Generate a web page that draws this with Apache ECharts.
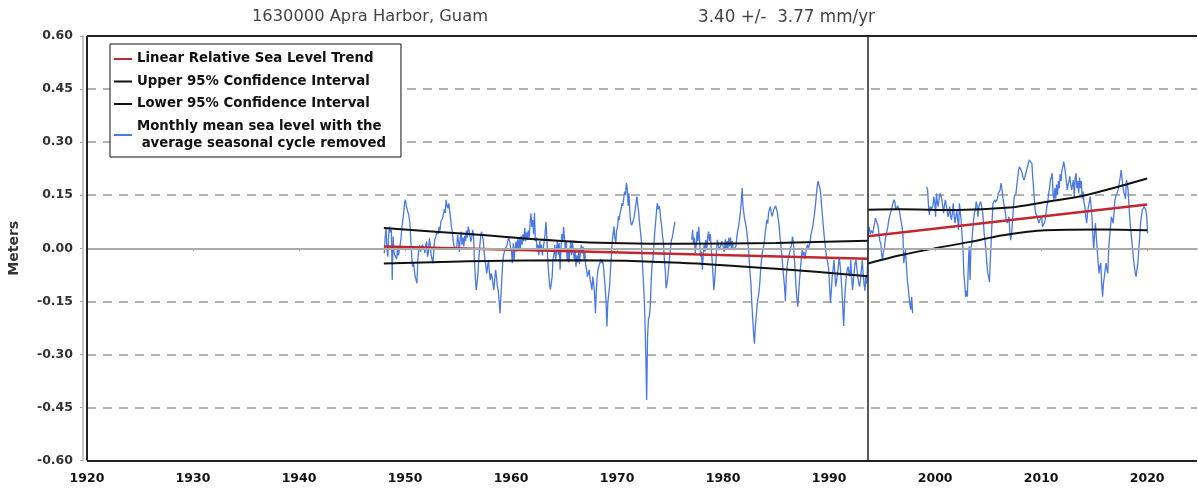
<!DOCTYPE html>
<html><head><meta charset="utf-8">
<script src="https://cdn.jsdelivr.net/npm/echarts@6/dist/echarts.min.js"></script>
<style>html,body{margin:0;padding:0;background:#fff}#c{width:1198px;height:489px}</style>
</head><body><div id="c"></div>
<script>
const stationTitle = '1630000 Apra Harbor, Guam';
const trendTitle = '3.40 +/-  3.77 mm/yr';
const legendNames = ['Linear Relative Sea Level Trend','Upper 95% Confidence Interval','Lower 95% Confidence Interval','Monthly mean sea level with the\n average seasonal cycle removed'];
const xTicks = [1920,1930,1940,1950,1960,1970,1980,1990,2000,2010,2020];
const yTicks = [-0.6,-0.45,-0.3,-0.15,0,0.15,0.3,0.45,0.6];
const breakYear = 1993.67;
// monthly mean sea level (m), seasonal cycle removed, Jan 1948 onward; '-' = no data
const seriesStart = 1948;
const msl = [
/*1948*/ -0.014,0.03,0.057,0.0,-0.024,0.04,0.061,0.045,0.052,-0.09,0.033,-0.01,
/*1949*/ -0.02,-0.024,-0.03,0.0,-0.02,-0.024,0.01,0.03,0.06,0.08,0.1,0.13,
/*1950*/ 0.137,0.118,0.12,0.1,0.09,0.07,0.024,-0.02,-0.052,-0.04,-0.061,-0.08,
/*1951*/ -0.08,-0.099,-0.033,0.0,0.009,-0.01,-0.005,0.01,0.014,0.0,-0.014,0.01,
/*1952*/ 0.019,-0.024,-0.01,0.028,0.01,-0.019,-0.03,-0.042,-0.01,0.024,0.03,0.04,
/*1953*/ 0.047,0.04,0.06,0.05,0.075,0.07,0.085,0.09,0.11,0.1,0.137,0.12,
/*1954*/ 0.113,0.127,0.13,0.085,0.06,0.047,0.02,0.005,0.0,0.01,0.0,0.038,
/*1955*/ 0.02,-0.01,0.03,0.047,0.01,0.03,0.005,0.035,0.02,0.05,0.03,0.061,
/*1956*/ 0.05,0.047,0.019,0.03,0.052,0.04,-0.033,-0.08,-0.118,-0.1,-0.071,-0.03,
/*1957*/ 0.005,0.03,0.047,0.035,0.024,-0.01,-0.033,-0.05,-0.071,-0.05,-0.033,-0.07,
/*1958*/ -0.09,-0.071,-0.08,-0.1,-0.118,-0.09,-0.061,-0.08,-0.108,-0.12,-0.15,-0.184,
/*1959*/ -0.137,-0.09,-0.042,-0.02,-0.009,-0.01,-0.005,0.01,0.024,0.03,0.019,0.0,
/*1960*/ -0.009,-0.042,0.014,-0.033,0.0,0.019,-0.01,0.025,-0.005,0.03,0.0,0.035,
/*1961*/ 0.01,0.04,0.02,0.057,0.02,0.045,0.024,0.05,0.03,0.07,0.099,0.06,
/*1962*/ 0.08,0.04,0.1,0.02,0.03,-0.01,0.01,-0.02,0.02,-0.01,0.01,-0.02,
/*1963*/ 0.0,0.02,0.04,0.075,0.03,-0.03,-0.07,-0.1,-0.117,-0.12,-0.08,-0.03,
/*1964*/ -0.02,0.01,-0.033,0.0,0.02,-0.02,0.015,-0.061,0.0,0.04,0.02,0.06,
/*1965*/ 0.03,-0.01,0.02,-0.033,0.0,-0.04,-0.01,0.02,-0.02,0.015,-0.01,-0.03,
/*1966*/ -0.01,-0.052,-0.02,-0.04,-0.01,-0.045,-0.01,0.01,-0.015,0.005,-0.03,-0.01,
/*1967*/ -0.05,-0.06,-0.08,-0.07,-0.061,-0.09,-0.1,-0.118,-0.08,-0.1,-0.127,-0.184,
/*1968*/ -0.12,-0.08,-0.06,-0.05,-0.042,-0.03,-0.042,-0.033,-0.05,-0.08,-0.108,-0.15,
/*1969*/ -0.221,-0.155,-0.13,-0.108,-0.06,-0.024,0.02,0.04,0.061,0.03,0.014,0.05,
/*1970*/ 0.06,0.09,0.08,0.1,0.11,0.127,0.12,0.14,0.16,0.15,0.184,0.17,
/*1971*/ 0.12,0.155,0.1,0.071,0.065,0.061,0.08,0.09,0.11,0.13,0.146,0.12,
/*1972*/ 0.1,0.071,0.071,0.02,-0.033,-0.08,-0.127,-0.2,-0.3,-0.429,-0.25,-0.2,
/*1973*/ -0.193,-0.165,-0.1,-0.05,-0.033,0.0,0.042,0.07,0.1,0.127,0.11,0.12,
/*1974*/ 0.108,0.08,0.061,0.033,0.014,-0.03,-0.061,-0.113,-0.1,-0.08,-0.05,-0.024,
/*1975*/ 0.0,0.024,0.03,0.047,0.06,0.075,'-','-','-','-','-','-',
/*1976*/ '-','-','-','-','-','-','-','-','-','-','-','-',
/*1977*/ 0.024,0.052,0.01,0.03,-0.014,0.01,0.047,0.02,0.061,0.02,-0.024,-0.01,
/*1978*/ -0.061,-0.02,0.01,-0.01,0.024,0.0,0.03,0.047,0.02,0.04,0.0,-0.03,
/*1979*/ -0.033,-0.118,-0.09,-0.052,-0.01,0.024,0.01,-0.005,0.0,0.01,0.02,0.019,
/*1980*/ 0.02,-0.01,0.025,-0.005,0.02,0.0,0.03,0.005,0.03,0.0,0.02,-0.005,
/*1981*/ -0.005,0.0,0.005,0.03,0.05,0.061,0.08,0.1,0.127,0.17,0.12,0.099,
/*1982*/ 0.08,0.07,0.052,0.03,0.005,-0.03,-0.071,-0.1,-0.155,-0.2,-0.24,-0.27,
/*1983*/ -0.22,-0.193,-0.16,-0.14,-0.127,-0.1,-0.061,-0.03,-0.01,0.0,0.014,0.04,
/*1984*/ 0.06,0.08,0.07,0.1,0.11,0.118,0.1,0.09,0.1,0.11,0.108,0.12,
/*1985*/ 0.122,0.1,0.08,0.061,0.03,0.005,-0.02,-0.052,-0.08,-0.108,-0.15,-0.08,
/*1986*/ -0.05,-0.033,-0.02,-0.01,-0.005,0.01,0.033,0.02,-0.024,-0.06,-0.108,-0.14,
/*1987*/ -0.165,-0.13,-0.09,-0.06,-0.03,-0.005,-0.02,-0.01,-0.03,-0.014,0.0,0.01,
/*1988*/ 0.0,0.009,0.02,0.04,0.05,0.061,0.08,0.099,0.12,0.15,0.174,0.19,
/*1989*/ 0.193,0.17,0.155,0.12,0.09,0.06,0.033,0.01,-0.014,-0.03,-0.042,-0.06,
/*1990*/ -0.061,-0.155,-0.12,-0.08,-0.06,-0.033,-0.07,-0.108,-0.09,-0.071,-0.05,-0.024,
/*1991*/ -0.05,-0.08,-0.12,-0.17,-0.22,-0.15,-0.108,-0.08,-0.06,-0.052,-0.07,-0.08,
/*1992*/ -0.033,-0.08,-0.118,-0.09,-0.061,-0.04,-0.033,-0.06,-0.08,-0.1,-0.108,-0.09,
/*1993*/ -0.06,-0.033,-0.071,-0.1,-0.12,-0.08,-0.1,-0.05,0.05,0.06,0.04,0.05,
/*1994*/ 0.05,0.042,0.06,0.07,0.085,0.09,0.07,0.061,0.04,0.02,0.014,-0.02,
/*1995*/ -0.033,-0.01,0.0,0.024,0.04,0.05,0.061,0.08,0.09,0.1,0.108,0.12,
/*1996*/ 0.12,0.137,0.13,0.108,0.11,0.12,0.118,0.108,0.09,0.089,0.061,0.042,
/*1997*/ -0.042,-0.02,-0.005,-0.05,-0.09,-0.11,-0.137,-0.16,-0.174,-0.137,-0.184,'-',
/*1998*/ '-','-','-','-','-','-','-','-','-','-','-','-',
/*1999*/ '-','-',0.174,0.165,0.118,0.094,0.118,0.11,0.108,0.12,0.146,0.13,
/*2000*/ 0.089,0.155,0.13,0.118,0.14,0.155,0.15,0.141,0.12,0.099,0.12,0.137,
/*2001*/ 0.141,0.11,0.089,0.1,0.118,0.09,0.08,0.1,0.127,0.09,0.071,0.09,
/*2002*/ 0.108,0.08,0.052,0.127,0.1,0.08,0.033,0.0,-0.071,-0.1,-0.137,-0.12,
/*2003*/ -0.137,-0.052,0.005,-0.09,0.0,0.014,0.05,0.08,0.1,0.108,0.132,0.12,
/*2004*/ 0.089,0.118,0.12,0.132,0.12,0.108,0.08,0.042,0.02,-0.005,-0.04,-0.071,
/*2005*/ -0.08,-0.095,-0.03,0.023,0.08,0.127,0.13,0.137,0.13,0.127,0.14,0.155,
/*2006*/ 0.16,0.165,0.184,0.17,0.146,0.13,0.127,0.1,0.08,0.071,0.08,0.089,
/*2007*/ 0.05,0.023,0.04,0.075,0.11,0.146,0.15,0.155,0.18,0.2,0.221,0.23,
/*2008*/ 0.231,0.22,0.212,0.2,0.193,0.2,0.21,0.22,0.231,0.24,0.25,0.245,
/*2009*/ 0.245,0.24,0.2,0.165,0.13,0.1,0.099,0.09,0.08,0.071,0.08,0.085,
/*2010*/ 0.089,0.061,0.065,0.071,0.08,0.1,0.118,0.13,0.155,0.17,0.193,0.2,
/*2011*/ 0.212,0.15,0.137,0.17,0.14,0.18,0.15,0.19,0.17,0.21,0.19,0.22,
/*2012*/ 0.23,0.245,0.23,0.212,0.19,0.165,0.18,0.19,0.203,0.18,0.165,0.17,
/*2013*/ 0.193,0.146,0.2,0.212,0.17,0.19,0.155,0.2,0.17,0.19,0.14,0.16,
/*2014*/ 0.13,0.118,0.09,0.071,0.1,0.118,0.13,0.146,0.12,0.089,0.04,-0.005,
/*2015*/ 0.042,0.071,0.03,-0.005,-0.04,-0.071,-0.05,-0.042,-0.1,-0.137,-0.1,-0.08,
/*2016*/ -0.08,-0.042,-0.06,-0.071,0.0,0.033,0.06,0.089,0.08,0.071,0.1,0.137,
/*2017*/ 0.146,0.15,0.16,0.17,0.174,0.2,0.221,0.2,0.174,0.16,0.155,0.14,
/*2018*/ 0.193,0.184,0.16,0.118,0.08,0.05,0.023,0.0,-0.03,-0.052,-0.07,-0.08,
/*2019*/ -0.08,-0.04,-0.005,0.03,0.071,0.09,0.108,0.11,0.118,0.12,0.108,0.09,
/*2020*/ 0.042
];
// linear trend (two segments) and 95% confidence bounds
const trendYears = [1948.0, 1993.67, 1993.67, 2020.0];
const trendVals  = [0.005, -0.030, 0.034, 0.124];
const upperYears = [1948.0,1956,1966.4,1975.9,1985,1993.67, 1993.67,1996.7,2002,2007,2010.4,2014.2,2020.0];
const upperVals  = [0.057,0.040,0.018,0.013,0.015,0.021, 0.109,0.110,0.108,0.115,0.131,0.150,0.197];
const lowerYears = [1948.0,1956,1966.4,1975.9,1985,1993.67, 1993.67,1996.7,2000,2003.3,2006.4,2010.4,2015.8,2020.0];
const lowerVals  = [-0.043,-0.037,-0.034,-0.041,-0.058,-0.079, -0.043,-0.020,0.000,0.018,0.037,0.051,0.053,0.051];

function seg(xs, ys){
  const out=[];
  for(let i=0;i<xs.length;i++){
    if(i>0 && xs[i]===xs[i-1]) out.push([xs[i],'-']);
    out.push([xs[i],ys[i]]);
  }
  return out;
}
const mslData = msl.map((v,i)=>[seriesStart+(i+0.5)/12, v]);

const chart = echarts.init(document.getElementById('c'));
const font = 'DejaVu Sans';
const edge = {color:'#222',width:2,type:'solid'};
chart.setOption({
  animation:false,
  title:[
    {text:stationTitle,left:252,top:9,padding:0,textStyle:{fontFamily:font,fontSize:16.3,fontWeight:'normal',color:'#444'}},
    {text:trendTitle,left:698,top:9,padding:0,textStyle:{fontFamily:font,fontSize:16.8,fontWeight:'normal',color:'#444'}}
  ],
  grid:{left:87,top:36,width:1110,height:424.5,show:false,outerBoundsMode:'none',containLabel:false},
  legend:{
    left:110,top:44,orient:'vertical',
    backgroundColor:'#fff',borderColor:'#111',borderWidth:1,borderRadius:0,
    padding:[6.5,15,5,4],itemGap:5.5,itemWidth:18,itemHeight:2,
    textStyle:{fontFamily:font,fontWeight:'bold',fontSize:13.3,color:'#111',lineHeight:17},
    data:[
      {name:legendNames[0],icon:'rect',itemStyle:{color:'#c0282d'}},
      {name:legendNames[1],icon:'rect',itemStyle:{color:'#111'}},
      {name:legendNames[2],icon:'rect',itemStyle:{color:'#111'}},
      {name:legendNames[3],icon:'rect',itemStyle:{color:'#4a78e6'}}
    ]
  },
  xAxis:{
    type:'value',min:1920,max:2024.7,interval:10,offset:4,
    axisLine:{show:true,lineStyle:{color:'#c8c8c8',width:2}},
    axisTick:{show:true,length:3,lineStyle:{color:'#aaa'}},
    axisLabel:{margin:8,fontFamily:font,fontWeight:'bold',fontSize:12.5,color:'#111',showMaxLabel:false,
      formatter:v=>xTicks.includes(v)?String(v):''},
    splitLine:{show:false}
  },
  yAxis:{
    type:'value',min:-0.6,max:0.6,interval:0.15,offset:4,
    name:'Meters',nameLocation:'middle',nameGap:62,nameRotate:90,
    nameTextStyle:{fontFamily:font,fontWeight:'bold',fontSize:14,color:'#333'},
    axisLine:{show:true,lineStyle:{color:'#c8c8c8',width:2}},
    axisTick:{show:true,length:3,lineStyle:{color:'#aaa'}},
    axisLabel:{margin:10,fontFamily:font,fontWeight:'bold',fontSize:12.5,color:'#333',
      formatter:v=>{const t=yTicks.find(k=>Math.abs(k-v)<1e-9);return t===undefined?'':t.toFixed(2);}},
    splitLine:{show:true,lineStyle:{color:'#999',width:1.5,type:[9,7]}}
  },
  series:[
    {name:legendNames[3],type:'line',data:mslData,showSymbol:false,connectNulls:false,z:2,
      lineStyle:{color:'#4a78e6',width:1.3},itemStyle:{color:'#4a78e6'},
      markLine:{silent:true,symbol:['none','none'],label:{show:false},
        data:[{yAxis:0,lineStyle:{color:'#aaa',width:2,type:'solid'}},
              {yAxis:0.6,lineStyle:edge},{yAxis:-0.6,lineStyle:edge},{xAxis:1920,lineStyle:edge},
              {xAxis:breakYear,lineStyle:{color:'#222',width:1.5,type:'solid'}}]}},
    {name:legendNames[1],type:'line',data:seg(upperYears,upperVals),showSymbol:false,smooth:0.3,connectNulls:false,z:3,
      lineStyle:{color:'#111',width:2},itemStyle:{color:'#111'}},
    {name:legendNames[2],type:'line',data:seg(lowerYears,lowerVals),showSymbol:false,smooth:0.3,connectNulls:false,z:3,
      lineStyle:{color:'#111',width:2},itemStyle:{color:'#111'}},
    {name:legendNames[0],type:'line',data:seg(trendYears,trendVals),showSymbol:false,connectNulls:false,z:4,
      lineStyle:{color:'#c0282d',width:2.5},itemStyle:{color:'#c0282d'}}
  ]
});
</script></body></html>
